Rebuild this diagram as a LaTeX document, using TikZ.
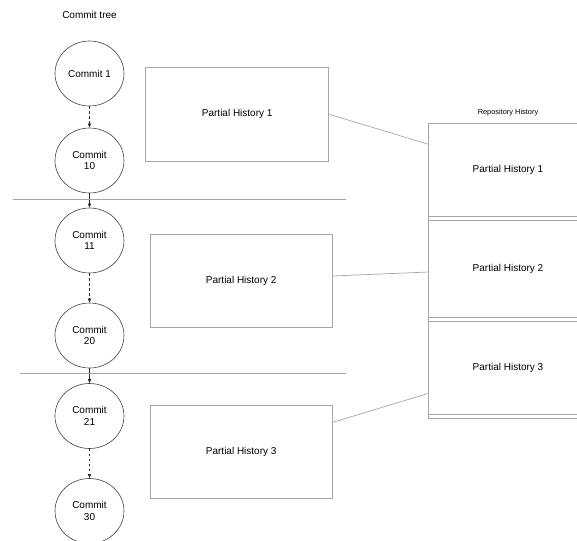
\documentclass[tikz,border=0pt]{standalone}
\usepackage{fontspec}
\setmainfont{Liberation Sans}
\usetikzlibrary{shapes.geometric,arrows.meta}
\begin{document}
\begin{tikzpicture}[x=1pt,y=-1pt,
  commit/.style={draw=black!75,line width=0.6pt,ellipse,minimum width=69pt,minimum height=65pt,inner sep=0pt,align=center,font=\fontsize{10}{11.5}\selectfont},
  partbox/.style={draw=black!35,line width=0.8pt,minimum width=#1,inner sep=0pt,font=\fontsize{10}{12}\selectfont},
  link/.style={draw=black!35,line width=0.7pt},
  sep/.style={draw=black!35,line width=0.7pt},
  hop/.style={-{Latex[length=4pt,width=3.5pt]},line width=0.55pt,black!85},
  skip/.style={hop,dash pattern=on 2.5pt off 2.5pt}]
\useasboundingbox (0,0) rectangle (577,540);

% title of the commit column
\node[font=\fontsize{10}{12}\selectfont] (ttl) at (89.5,15) {Commit tree};

% commits
\node[commit] (c1)  at (89.5,73.5)  {Commit 1};
\node[commit] (c10) at (89.5,160.5) {Commit\\10};
\node[commit] (c11) at (89.5,240.5) {Commit\\11};
\node[commit] (c20) at (89.5,335.5) {Commit\\20};
\node[commit] (c21) at (89.5,416)   {Commit\\21};
\node[commit] (c30) at (89.5,511)   {Commit\\30};

\draw[skip] (c1) -- (c10);
\draw[hop]  (c10) -- (c11);
\draw[skip] (c11) -- (c20);
\draw[hop]  (c20) -- (c21);
\draw[skip] (c21) -- (c30);

% section separators
\draw[sep] (13,199.3) -- (346,199.3);
\draw[sep] (20,373.3) -- (346,373.3);

% partial histories
\node[partbox=183pt,minimum height=93.3pt] (p1) at (237.2,114.3) {Partial History 1};
\node[partbox=182.5pt,minimum height=93.3pt] (p2) at (241.2,280.7) {Partial History 2};
\node[partbox=182.5pt,minimum height=93.3pt] (p3) at (241.2,451.7) {Partial History 3};

% repository history
\node[font=\fontsize{7.4}{9}\selectfont] (rt) at (508,112.5) {Repository History};
\draw[sep] (578,123.3) -- (428.5,123.3) -- (428.5,418.3) -- (578,418.3);
\foreach \yy in {216.3,220,317.7,321.3,414.3}
  \draw[sep] (428.5,\yy) -- (578,\yy);
\node[font=\fontsize{10}{12}\selectfont] (r1) at (508,169.5) {Partial History 1};
\node[font=\fontsize{10}{12}\selectfont] (r2) at (508,268.5) {Partial History 2};
\node[font=\fontsize{10}{12}\selectfont] (r3) at (508,367.5) {Partial History 3};

\coordinate (e1) at (428.5,144.3);
\coordinate (e2) at (428.5,272);
\coordinate (e3) at (428.5,393.3);
\draw[link] (p1.east) -- (e1);
\draw[link] (p2.east |- 0,276) -- (e2);
\draw[link] (p3.east |- 0,422.3) -- (e3);
\end{tikzpicture}
\end{document}
